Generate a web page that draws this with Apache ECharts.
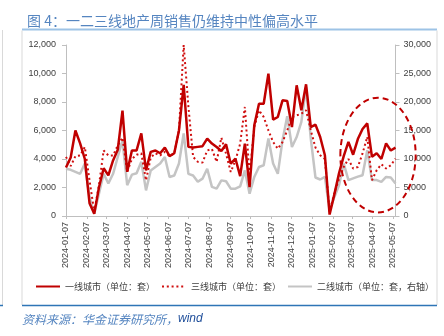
<!DOCTYPE html>
<html><head><meta charset="utf-8">
<script src="https://cdn.jsdelivr.net/npm/echarts@6/dist/echarts.min.js"></script>
<style>html,body{margin:0;padding:0;background:#fff}#c{width:444px;height:336px}</style>
</head><body><div id="c"></div>
<script>
// ---- data ----
const weekDates = [
'2024-01-07','2024-01-14','2024-01-21','2024-01-28','2024-02-04','2024-02-11','2024-02-18','2024-02-25',
'2024-03-03','2024-03-10','2024-03-17','2024-03-24','2024-03-31','2024-04-07','2024-04-14','2024-04-21',
'2024-04-28','2024-05-05','2024-05-12','2024-05-19','2024-05-26','2024-06-02','2024-06-09','2024-06-16',
'2024-06-23','2024-06-30','2024-07-07','2024-07-14','2024-07-21','2024-07-28','2024-08-04','2024-08-11',
'2024-08-18','2024-08-25','2024-09-01','2024-09-08','2024-09-15','2024-09-22','2024-09-29','2024-10-06',
'2024-10-13','2024-10-20','2024-10-27','2024-11-03','2024-11-10','2024-11-17','2024-11-24','2024-12-01',
'2024-12-08','2024-12-15','2024-12-22','2024-12-29','2025-01-05','2025-01-12','2025-01-19','2025-01-26',
'2025-02-02','2025-02-09','2025-02-16','2025-02-23','2025-03-02','2025-03-09','2025-03-16','2025-03-23',
'2025-03-30','2025-04-06','2025-04-13','2025-04-20','2025-04-27','2025-05-04','2025-05-11'];

const tier1 = [3400,4100,6000,5100,4000,900,150,2000,3350,2850,3900,4650,7400,3100,4600,4600,
5800,3200,4500,4600,4400,4800,4200,4400,6000,9200,4850,4800,4850,4900,5430,5080,
4840,4560,5030,3670,4020,2800,5080,2030,6360,7880,7880,9990,6760,6950,8120,8070,
6240,9170,7420,9240,6240,6410,5540,4260,100,1500,3000,4200,5200,4300,5400,6100,
6500,4150,4400,4000,5100,4600,4800];

const tier3 = [4150,3500,4200,4250,4850,2500,300,2150,4600,4250,4250,4950,5500,3100,4000,4300,
4400,2500,4100,4400,4250,4500,4200,4400,6000,12000,7700,4150,3800,3750,4600,4700,
3800,5500,4370,3090,3900,5080,7650,2800,6240,7420,6950,6010,5190,4720,5190,6010,
6950,7060,7180,7420,6010,4800,4260,4000,300,1600,2600,3440,4000,3330,3440,4390,
5560,2510,3210,3630,3330,3560,4030];

const tier2 = [8300,8100,7750,7400,9200,3300,400,3900,7400,5700,7400,10350,13250,5400,7250,7500,
9500,4500,8000,8600,9200,10350,6850,7100,9200,14500,7400,7100,6000,6550,8300,5100,
4800,6250,6100,4800,4800,5200,8000,3900,6850,8600,8900,13600,9200,7400,13300,17500,
12100,13850,16500,22600,13600,6750,6400,6850,1000,3300,5400,9200,6300,6600,6900,7150,
11550,6300,6300,6000,6850,6750,5700];

const tickLabels = ['2024-01-07','2024-02-07','2024-03-07','2024-04-07','2024-05-07','2024-06-07',
'2024-07-07','2024-08-07','2024-09-07','2024-10-07','2024-11-07','2024-12-07','2025-01-07',
'2025-02-07','2025-03-07','2025-04-07','2025-05-07'];

const seriesNames = ['一线城市（单位：套）','三线城市（单位：套）','二线城市（单位：套，右轴）'];
const titleText = '图 4：一二三线地产周销售仍维持中性偏高水平';
const sourceMain = '资料来源：华金证券研究所，';
const sourceTail = 'wind';
// highlighted region (data coordinates)
const circleX = ['2025-02-18','2025-06-10'];
const circleY = [8300, 250];

// ---- chart ----
const DAY = 86400000;
function ts(s){const p=s.split('-').map(Number);return Date.UTC(p[0],p[1]-1,p[2]);}
const t0 = ts(weekDates[0]);
const dayOf = s => Math.round((ts(s)-t0)/DAY);
const xs = weekDates.map(dayOf);
const pair = arr => arr.map((v,i)=>[xs[i],v]);
const tickDays = tickLabels.map(dayOf);
const labelMap = {}; tickLabels.forEach((s,i)=>labelMap[tickDays[i]]=s);
const axisCol = '#bfbfbf', txtCol = '#404040';
const numFont = 'Liberation Sans';
const cjk = 'Noto Sans CJK SC';

const chart = echarts.init(document.getElementById('c'), null, {renderer:'canvas'});
const option = {
  animation:false,
  backgroundColor:'#fff',
  title:{text:titleText,left:22,top:9,textStyle:{fontSize:14,fontWeight:'normal',color:'#5585c0',fontFamily:cjk}},
  grid:{left:66,right:48.5,top:45,bottom:120},
  legend:{data:seriesNames,left:30,top:277,itemWidth:24,itemHeight:10,itemGap:6,
    itemStyle:{opacity:0,borderWidth:0},
    textStyle:{fontSize:9,color:txtCol,fontFamily:cjk}},
  xAxis:{type:'value',min:xs[0],max:xs[xs.length-1],
    axisLine:{lineStyle:{color:axisCol}},
    axisTick:{show:true,length:3,lineStyle:{color:axisCol},customValues:tickDays},
    axisLabel:{rotate:90,fontSize:9,color:txtCol,fontFamily:numFont,margin:6,customValues:tickDays,
      formatter:v=>labelMap[Math.round(v)]||'',showMinLabel:true,showMaxLabel:true},
    splitLine:{show:false}},
  yAxis:[
    {type:'value',min:0,max:12000,interval:2000,
     axisLine:{show:true,lineStyle:{color:axisCol}},axisTick:{show:true,length:4,lineStyle:{color:axisCol}},
     axisLabel:{fontSize:9,color:txtCol,fontFamily:numFont,margin:10,formatter:v=>v.toLocaleString('en-US')},
     splitLine:{show:false}},
    {type:'value',min:0,max:30000,interval:5000,position:'right',
     axisLine:{show:true,lineStyle:{color:axisCol}},axisTick:{show:true,length:4,lineStyle:{color:axisCol}},
     axisLabel:{fontSize:9,color:txtCol,fontFamily:numFont,margin:8,formatter:v=>v.toLocaleString('en-US')},
     splitLine:{show:false}}
  ],
  series:[
    {name:seriesNames[0],type:'line',data:pair(tier1),yAxisIndex:0,symbol:'none',z:4,
     lineStyle:{color:'#c00000',width:2.5},itemStyle:{color:'#c00000'}},
    {name:seriesNames[1],type:'line',data:pair(tier3),yAxisIndex:0,symbol:'none',z:3,
     lineStyle:{color:'#d01010',width:2,type:[2,2.8]},itemStyle:{color:'#d01010'}},
    {name:seriesNames[2],type:'line',data:pair(tier2),yAxisIndex:1,symbol:'none',z:2,
     lineStyle:{color:'#c4c4c4',width:2.5},itemStyle:{color:'#c4c4c4'}}
  ]
};
chart.setOption(option);

const p0 = chart.convertToPixel({gridIndex:0},[dayOf(circleX[0]),circleY[0]]);
const p1 = chart.convertToPixel({gridIndex:0},[dayOf(circleX[1]),circleY[1]]);
chart.setOption({graphic:[
  {type:'rect',shape:{x:22,y:28.5,width:415,height:2},style:{fill:'#9dc3e6'},silent:true},
  {type:'line',shape:{x1:22,y1:30.5,x2:22,y2:305},style:{stroke:'#d9d9d9',lineWidth:1}},
  {type:'line',shape:{x1:437,y1:30.5,x2:437,y2:305},style:{stroke:'#d9d9d9',lineWidth:1}},
  {type:'line',shape:{x1:22,y1:305.5,x2:437,y2:305.5},style:{stroke:'#2e75b6',lineWidth:1.5}},
  {type:'line',shape:{x1:2.5,y1:30,x2:2.5,y2:305},style:{stroke:'#d9d9d9',lineWidth:1}},
  {type:'line',shape:{x1:0,y1:305.5,x2:3,y2:305.5},style:{stroke:'#2e75b6',lineWidth:1.5}},
  {type:'ellipse',shape:{cx:(p0[0]+p1[0])/2,cy:(p0[1]+p1[1])/2,rx:Math.abs(p1[0]-p0[0])/2,ry:Math.abs(p1[1]-p0[1])/2},
   style:{fill:null,stroke:'#c00000',lineWidth:2,lineDash:[6,4]},z:100},
  {type:'text',left:22,top:313,style:{text:'{a|'+sourceMain+'}{b|'+sourceTail+'}',
    rich:{a:{fontSize:12,fontStyle:'italic',fill:'#5585c0',fontFamily:cjk},
          b:{fontSize:12,fontStyle:'italic',fill:'#1f4e9a',fontFamily:'Liberation Sans'}}}}
]});
</script></body></html>
